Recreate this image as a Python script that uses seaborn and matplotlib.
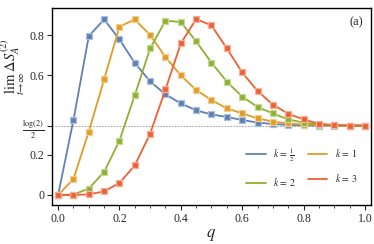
import numpy as np
import pandas as pd
import seaborn as sns
import matplotlib
matplotlib.use("Agg")
import matplotlib.pyplot as plt
from matplotlib.lines import Line2D
from matplotlib.colors import to_rgb

q = [0.0, 0.05, 0.1, 0.15, 0.2, 0.25, 0.3, 0.35, 0.4, 0.45, 0.5,
     0.55, 0.6, 0.65, 0.7, 0.75, 0.8, 0.85, 0.9, 0.95, 1.0]
k_half = [0, 0.375, 0.795, 0.878, 0.778, 0.66, 0.568, 0.503, 0.458, 0.423, 0.403,
          0.39, 0.375, 0.362, 0.355, 0.35, 0.348, 0.347, 0.347, 0.347, 0.347]
k_one = [0, 0.08, 0.317, 0.578, 0.842, 0.878, 0.80, 0.69, 0.598, 0.525, 0.475,
         0.433, 0.408, 0.383, 0.367, 0.358, 0.352, 0.349, 0.348, 0.347, 0.347]
k_two = [0, 0.002, 0.032, 0.115, 0.272, 0.50, 0.733, 0.872, 0.865, 0.768, 0.662,
         0.567, 0.492, 0.44, 0.408, 0.378, 0.362, 0.352, 0.348, 0.347, 0.347]
k_three = [0, 0.0, 0.003, 0.018, 0.06, 0.148, 0.307, 0.528, 0.758, 0.88, 0.848,
           0.733, 0.613, 0.52, 0.452, 0.406, 0.378, 0.356, 0.35, 0.347, 0.347]
labels = [r"$k\,=\,\frac{1}{2}$", r"$k\,=\,1$", r"$k\,=\,2$", r"$k\,=\,3$"]
colors = ["#5E81B5", "#E19C24", "#8FB032", "#EB6235"]
series = [k_half, k_one, k_two, k_three]

sns.set_style("ticks")
plt.rcParams["font.family"] = ["Liberation Serif", "DejaVu Serif"]
plt.rcParams["mathtext.fontset"] = "stix"

fig = plt.figure(figsize=(3.74, 2.44), dpi=100)
ax = fig.add_axes([0.139, 0.160, 0.853, 0.807])

ax.axhline(np.log(2) / 2, color="#999999", lw=0.6, ls=(0, (2, 1.5)), zorder=1)

for vals, c in zip(series, colors):
    df = pd.DataFrame({"q": q, "v": vals})
    light = tuple(0.5 * np.array(to_rgb(c)) + 0.5)
    sns.lineplot(data=df, x="q", y="v", ax=ax, color=c, lw=1.3,
                 marker="s", markersize=4.8, markerfacecolor=c,
                 markeredgecolor=light, markeredgewidth=0.9,
                 legend=False, zorder=3)

ax.set_xlim(-0.02, 1.02)
ax.set_ylim(-0.05, 0.935)
ax.set_xticks([0.0, 0.2, 0.4, 0.6, 0.8, 1.0])
ax.set_xticklabels(["0.0", "0.2", "0.4", "0.6", "0.8", "1.0"])
ax.set_xticks(np.arange(0, 1.001, 0.05), minor=True)
ax.set_yticks([0, 0.2, np.log(2) / 2, 0.6, 0.8])
ax.set_yticklabels(["0", "0.2", r"$\frac{\log(2)}{2}$", "0.6", "0.8"])
ax.tick_params(axis="both", which="major", direction="out", length=3.5, width=0.8,
               labelsize=8.5, pad=2)
ax.tick_params(axis="x", which="minor", direction="out", length=2, width=0.6)
for sp in ax.spines.values():
    sp.set_visible(True)
    sp.set_linewidth(1.0)
    sp.set_color("black")

ax.set_xlabel(r"$q$", fontsize=12, labelpad=2)
ax.set_ylabel(r"$\lim_{t\to\infty}\,\Delta S_A^{(2)}$", fontsize=10.5)
ax.yaxis.set_label_coords(-0.078, 0.70)

ax.text(0.975, 0.93, "(a)", transform=ax.transAxes, ha="right", va="center",
        fontsize=9)

order = [0, 2, 1, 3]
handles = [Line2D([0], [0], color=colors[i], lw=1.3) for i in order]
ax.legend(handles, [labels[i] for i in order], ncol=2, loc="lower right",
          bbox_to_anchor=(0.985, 0.04), frameon=False, fontsize=7,
          handlelength=2.0, columnspacing=1.2, labelspacing=1.3,
          handletextpad=0.8)

fig.savefig("out.png", dpi=100)
